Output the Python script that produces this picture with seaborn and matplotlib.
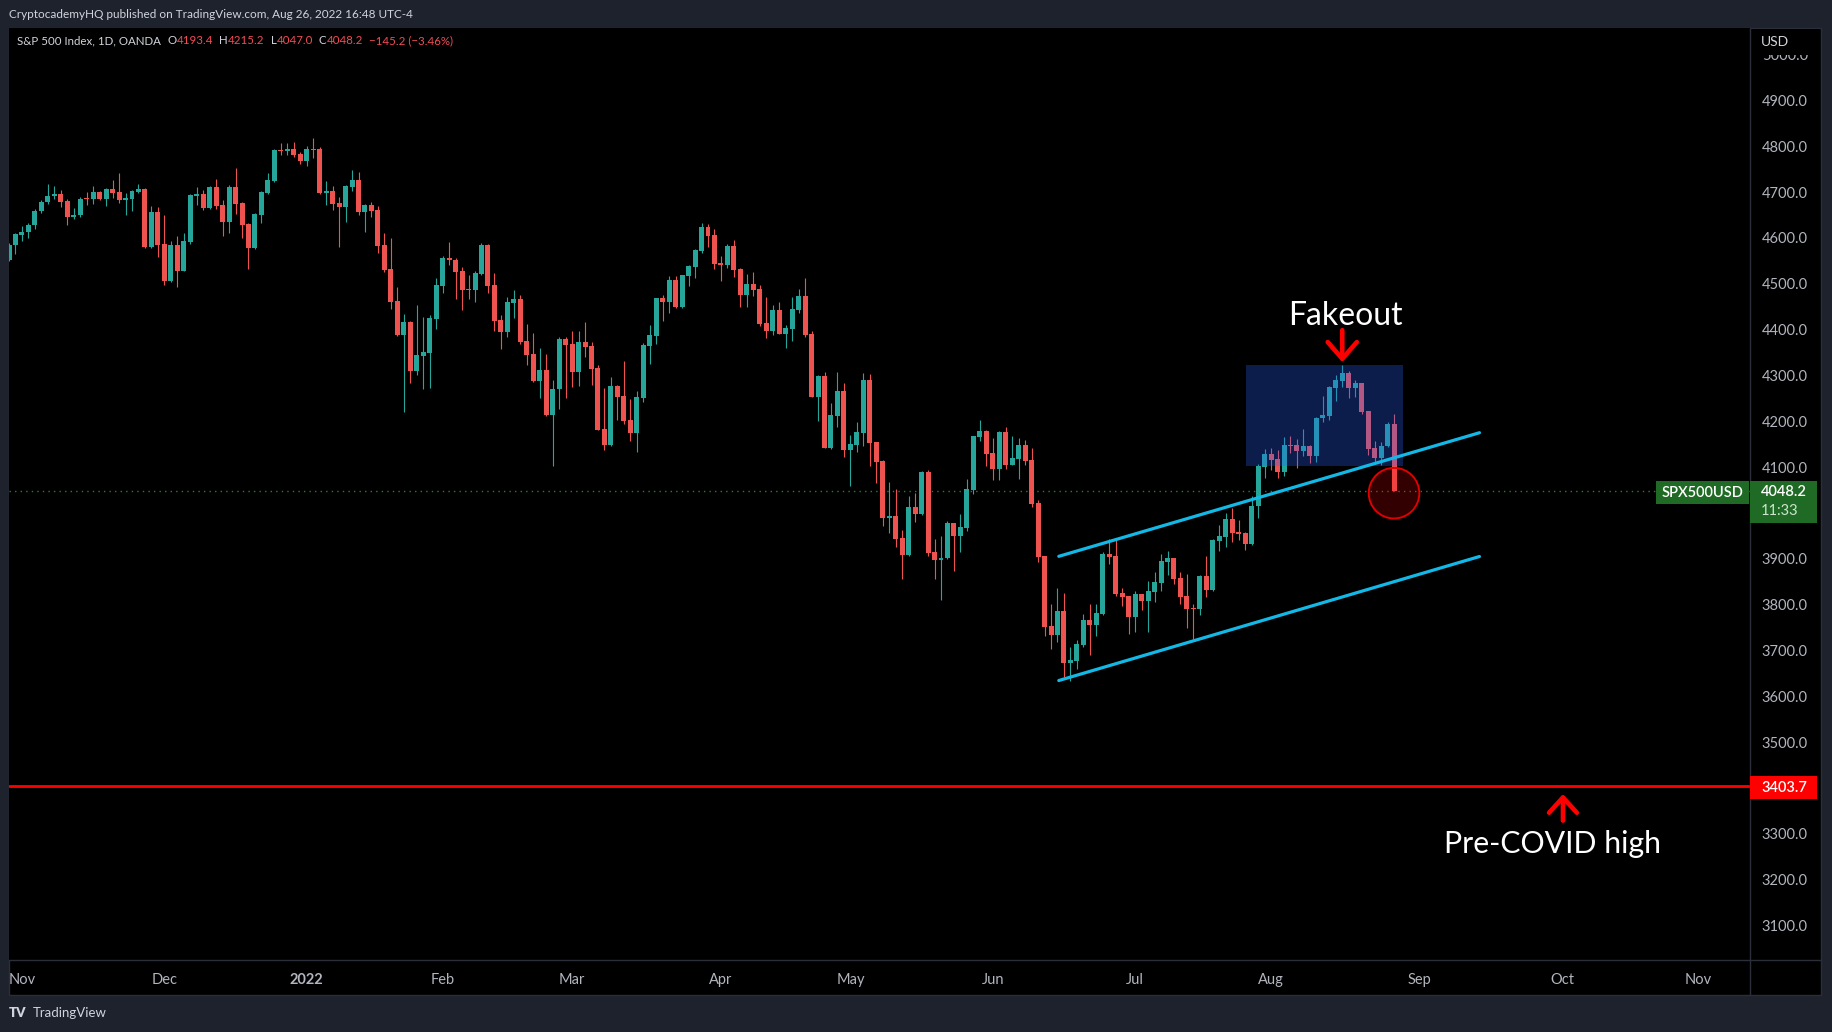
import numpy as np
import pandas as pd
import matplotlib
matplotlib.use("Agg")
import matplotlib.pyplot as plt
from matplotlib.patches import Rectangle, Ellipse
from matplotlib.lines import Line2D
import seaborn as sns

# S&P 500 (OANDA SPX500USD) daily candles, 28 Oct 2021 - 26 Aug 2022
opens = [
    4553, 4585,
    4607, 4613, 4628, 4659, 4678, 4691, 4696, 4680, 4646, 4650,
    4685, 4684, 4700, 4685, 4707, 4700, 4683, 4685, 4700, 4707, 4581, 4657,
    4587, 4507, 4585, 4529, 4591, 4692, 4696, 4665, 4711, 4672,
    4635, 4711, 4676, 4630, 4578, 4650, 4698, 4724, 4792, 4790, 4794, 4783,
    4768, 4794, 4794, 4698, 4702, 4676, 4668, 4711, 4726, 4657,
    4672, 4661, 4585, 4532, 4462, 4388, 4417, 4310, 4343, 4349, 4423,
    4495, 4556, 4553, 4528, 4488, 4487, 4522, 4585, 4497, 4421,
    4395, 4458, 4467, 4375, 4347, 4288, 4312, 4214, 4270, 4380,
    4369, 4308, 4373, 4364, 4316, 4183, 4148, 4277, 4255, 4203,
    4175, 4251, 4365, 4386, 4469, 4460, 4508, 4449, 4517, 4537, 4572, 4624, 4606,
    4545, 4541, 4583, 4532, 4476, 4500, 4489, 4415, 4397, 4443,
    4391, 4402, 4443, 4473, 4390, 4253, 4299, 4142, 4212, 4266,
    4137, 4148, 4175, 4290, 4155, 4113, 3989, 3993, 3945, 3908,
    4013, 3998, 4089, 3915, 3898, 3902, 3978, 3950, 3967, 4050, 4166, 4179,
    4131, 4096, 4177, 4105, 4118, 4148, 4115, 4022, 3906, 3753,
    3734, 3786, 3673, 3677, 3712, 3766, 3756, 3780, 3910, 3906, 3825, 3819,
    3773, 3823, 3808, 3828, 3847, 3893, 3902, 3858, 3819, 3793,
    3790, 3862, 3832, 3939, 3948, 3987, 3958, 3956, 3932, 4015, 4100,
    4129, 4118, 4089, 4148, 4148, 4135, 4146, 4124, 4207, 4212,
    4273, 4288, 4305, 4273, 4284, 4222, 4142, 4120, 4146, 4193.4,
]
highs = [
    4590, 4610,
    4626, 4632, 4663, 4682, 4717, 4713, 4705, 4685, 4665, 4689,
    4700, 4713, 4702, 4710, 4726, 4742, 4698, 4705, 4718, 4709, 4670, 4668,
    4650, 4593, 4604, 4611, 4696, 4711, 4705, 4713, 4729, 4683,
    4716, 4753, 4679, 4633, 4654, 4702, 4742, 4794, 4807, 4807, 4809, 4788,
    4801, 4818, 4798, 4724, 4713, 4689, 4716, 4748, 4744, 4674,
    4678, 4670, 4611, 4600, 4493, 4434, 4419, 4454, 4428, 4432, 4513,
    4561, 4591, 4557, 4537, 4519, 4528, 4589, 4587, 4524, 4432,
    4471, 4487, 4476, 4412, 4393, 4360, 4347, 4290, 4384, 4384,
    4397, 4397, 4417, 4373, 4323, 4273, 4297, 4279, 4332, 4249,
    4266, 4371, 4410, 4469, 4476, 4517, 4517, 4520, 4541, 4576, 4633, 4631, 4620,
    4561, 4587, 4596, 4535, 4521, 4526, 4497, 4471, 4454, 4460,
    4410, 4471, 4489, 4513, 4397, 4301, 4308, 4240, 4308, 4284,
    4170, 4199, 4305, 4303, 4155, 4115, 4068, 4052, 3963, 4037,
    4044, 4092, 4094, 3943, 3950, 3983, 3979, 3998, 4074, 4169, 4203, 4180,
    4164, 4179, 4188, 4168, 4164, 4159, 4142, 4028, 3906, 3801,
    3836, 3825, 3707, 3723, 3779, 3801, 3801, 3915, 3943, 3941, 3836, 3819,
    3830, 3823, 3852, 3871, 3910, 3917, 3902, 3871, 3867, 3801,
    3865, 3906, 3943, 3974, 4000, 4011, 3985, 3958, 4037, 4107, 4140,
    4142, 4137, 4166, 4168, 4161, 4183, 4148, 4209, 4255, 4277,
    4301, 4323, 4310, 4290, 4284, 4222, 4157, 4155, 4198, 4215.2,
]
lows = [
    4550, 4565,
    4593, 4601, 4620, 4655, 4675, 4684, 4668, 4628, 4642, 4646,
    4672, 4674, 4683, 4670, 4687, 4676, 4650, 4659, 4699, 4579, 4579, 4559,
    4498, 4505, 4492, 4527, 4587, 4672, 4661, 4663, 4663, 4604,
    4611, 4652, 4600, 4532, 4576, 4633, 4696, 4722, 4781, 4781, 4777, 4761,
    4757, 4774, 4696, 4672, 4661, 4580, 4635, 4702, 4650, 4613,
    4646, 4567, 4526, 4445, 4386, 4221, 4284, 4301, 4270, 4273, 4401,
    4480, 4541, 4467, 4443, 4467, 4460, 4520, 4480, 4397, 4358,
    4384, 4425, 4369, 4323, 4286, 4251, 4212, 4103, 4227, 4251,
    4275, 4277, 4340, 4279, 4180, 4137, 4146, 4203, 4194, 4157,
    4133, 4242, 4325, 4369, 4419, 4436, 4447, 4447, 4495, 4513, 4567, 4580, 4532,
    4506, 4535, 4515, 4449, 4449, 4473, 4408, 4382, 4388, 4390,
    4360, 4375, 4436, 4384, 4252, 4201, 4141, 4140, 4188, 4122,
    4059, 4133, 4146, 4103, 4065, 3972, 3956, 3926, 3856, 3906,
    3980, 3996, 3906, 3856, 3810, 3900, 3873, 3915, 3961, 4041, 4157, 4102,
    4072, 4072, 4096, 4104, 4074, 4105, 4013, 3893, 3732, 3703,
    3718, 3642, 3633, 3659, 3707, 3690, 3732, 3777, 3889, 3819, 3797, 3736,
    3740, 3788, 3740, 3806, 3830, 3865, 3845, 3801, 3749, 3725,
    3777, 3817, 3830, 3917, 3926, 3937, 3941, 3919, 3930, 3989, 4076,
    4094, 4076, 4081, 4131, 4098, 4124, 4109, 4111, 4198, 4203,
    4244, 4275, 4251, 4253, 4216, 4127, 4111, 4105, 4144, 4047.0,
]
closes = [
    4585, 4609,
    4613, 4628, 4659, 4678, 4691, 4696, 4678, 4646, 4651, 4685,
    4684, 4700, 4685, 4707, 4698, 4683, 4687, 4702, 4707, 4581, 4657, 4585,
    4507, 4585, 4529, 4593, 4694, 4696, 4665, 4711, 4670, 4635,
    4711, 4674, 4628, 4578, 4652, 4700, 4726, 4792, 4790, 4794, 4781, 4768,
    4794, 4792, 4698, 4702, 4674, 4668, 4713, 4726, 4657, 4672,
    4659, 4583, 4530, 4460, 4388, 4417, 4310, 4345, 4351, 4425, 4497,
    4556, 4552, 4526, 4487, 4487, 4524, 4585, 4495, 4419, 4395,
    4460, 4467, 4373, 4345, 4288, 4312, 4214, 4271, 4380, 4367,
    4308, 4373, 4362, 4314, 4181, 4148, 4277, 4253, 4201, 4175,
    4253, 4367, 4388, 4469, 4460, 4508, 4449, 4519, 4539, 4574, 4624, 4604, 4543,
    4541, 4583, 4530, 4476, 4500, 4487, 4412, 4397, 4443, 4391,
    4404, 4445, 4473, 4388, 4253, 4299, 4142, 4214, 4266, 4137,
    4150, 4177, 4290, 4153, 4111, 3989, 3993, 3943, 3908, 4013,
    3998, 4089, 3913, 3897, 3902, 3978, 3950, 3969, 4052, 4168, 4179, 4129,
    4096, 4177, 4105, 4120, 4148, 4113, 4020, 3904, 3751, 3734,
    3786, 3673, 3679, 3714, 3766, 3756, 3782, 3910, 3904, 3823, 3817, 3773,
    3823, 3808, 3830, 3849, 3895, 3902, 3856, 3817, 3790, 3790,
    3862, 3832, 3941, 3950, 3987, 3956, 3954, 3932, 4015, 4102, 4129,
    4116, 4089, 4148, 4146, 4135, 4146, 4124, 4207, 4214, 4275,
    4290, 4305, 4273, 4284, 4220, 4140, 4120, 4146, 4193.4, 4048.2,
]
holidays = ["2021-12-24", "2022-04-15"]
precovid_high = 3403.7

# hand drawn objects (bar index, price)
channel_x = [162.2, 227.2]
channel_upper = [3905.4, 4175.1]
channel_lower = [3634.4, 3905.0]
box_x = [191.1, 215.4]
box_y = [4102.5, 4323.0]

GREEN = "#26a69a"
RED = "#ef5350"
BG = "#1e222d"
LINE = "#2a2e39"
TXT = "#b2b5be"

sns.set_theme(style="dark", rc={"axes.facecolor": "black", "figure.facecolor": BG})
plt.rcParams["font.family"] = ["Lato", "DejaVu Sans"]

opens, highs, lows, closes = map(np.array, (opens, highs, lows, closes))
n = len(closes)
days = pd.bdate_range("2021-10-28", "2022-11-15")
days = days[~days.isin(pd.to_datetime(holidays))]
x = np.arange(n)

# month labels
pos = pd.Series(np.arange(len(days)), index=days)
firsts = pos.groupby([days.year, days.month]).min()
tick_pos, tick_lab = [], []
for (yy, mm), p in firsts.items():
    if p == 0:
        continue
    tick_pos.append(p)
    tick_lab.append(str(yy) if mm == 1 else pd.Timestamp(yy, mm, 1).strftime("%b"))

W, H = 1832, 1032
fig = plt.figure(figsize=(W / 100, H / 100), dpi=100)


def frect(x0, y0, x1, y1):
    return [x0 / W, 1 - y1 / H, (x1 - x0) / W, (y1 - y0) / H]


def fbox(x0, y0, x1, y1, color, z=1, edgecolor="none", lw=0):
    r = frect(x0, y0, x1, y1)
    fig.add_artist(Rectangle((r[0], r[1]), r[2], r[3], transform=fig.transFigure,
                             facecolor=color, edgecolor=edgecolor, lw=lw, zorder=z))


def ftext(px, py, s, **kw):
    return fig.text(px / W, 1 - py / H, s, **kw)


# panel behind chart + axes
fbox(9, 28, 1821, 995, "black", z=-10, edgecolor=LINE, lw=1)
fig.add_artist(Line2D([1750 / W] * 2, [1 - 28 / H, 1 - 995 / H], transform=fig.transFigure,
                      color=LINE, lw=1, zorder=2))
fig.add_artist(Line2D([9 / W, 1821 / W], [1 - 960 / H] * 2, transform=fig.transFigure,
                      color=LINE, lw=1, zorder=2))

ax = fig.add_axes(frect(9, 28, 1750, 960))
ax.set_facecolor("black")
for sp in ax.spines.values():
    sp.set_visible(False)
ax.grid(False)

# candles
cols = np.where(closes >= opens, GREEN, RED)
ax.vlines(x, lows, highs, colors=cols, lw=0.8, zorder=3)
body_lo = np.minimum(opens, closes)
body_h = np.maximum(np.abs(closes - opens), 2.2)
ax.bar(x, body_h, bottom=body_lo, width=0.77, color=cols, lw=0, zorder=4)

# lines
ax.axhline(precovid_high, color="#ff0000", lw=2, zorder=6)
ax.axhline(closes[-1], color="#2e7d32", lw=1, ls=(0, (1, 3)), zorder=2)

ch = pd.DataFrame({
    "x": channel_x + channel_x,
    "y": channel_upper + channel_lower,
    "line": ["upper", "upper", "lower", "lower"],
})
sns.lineplot(data=ch, x="x", y="y", units="line", estimator=None, color="#12b9e6",
             lw=2.3, ax=ax, legend=False, zorder=7)

ax.add_patch(Rectangle((box_x[0], box_y[0]), box_x[1] - box_x[0], box_y[1] - box_y[0],
                       facecolor="#2962ff", alpha=0.3, lw=0, zorder=5))

xlim = (-0.004, 269.0)
ylim = (3024.6, 5058.2)
ax.set_xlim(*xlim)
ax.set_ylim(*ylim)
ax.set_xlabel("")
ax.set_ylabel("")

# circle around the break
px_x = (xlim[1] - xlim[0]) / 1741
px_y = (ylim[1] - ylim[0]) / 932
ax.add_patch(Ellipse((x[-1], closes[-1] - 5), 2 * 25.3 * px_x, 2 * 25.3 * px_y,
                     facecolor=(1, 0, 0, 0.2), edgecolor="#e00000", lw=1.4, zorder=6))

# annotations
start = int(np.ceil(box_x[0]))
peak = start + int(np.argmax(highs[start:]))
ax.annotate("", xy=(x[peak], highs[peak] + 6), xytext=(x[peak], highs[peak] + 76),
            arrowprops=dict(arrowstyle="->,head_length=1.2,head_width=1.05", color="#ff0000",
                            lw=3.3, shrinkA=0, shrinkB=0, mutation_scale=10), zorder=8)
ax.text(x[peak] + 0.5, highs[peak] + 106, "Fakeout", ha="center", va="center",
        fontsize=23, color="white", zorder=8)
ax.annotate("", xy=(240.1, precovid_high - 17), xytext=(240.1, precovid_high - 75),
            arrowprops=dict(arrowstyle="->,head_length=1.1,head_width=1.0", color="#ff0000",
                            lw=3.3, shrinkA=0, shrinkB=0, mutation_scale=10), zorder=8)
ax.text(238.5, precovid_high - 125, "Pre-COVID high", ha="center", va="center",
        fontsize=21.8, color="white", zorder=8)

# axes ticks
yt = [v for v in range(3100, 5001, 100) if v not in (3400, 4000)]
ax.yaxis.tick_right()
ax.set_yticks(yt)
ax.set_yticklabels([f"{v:.1f}" for v in yt])
ax.tick_params(axis="y", length=0, pad=8.4, labelsize=10.5, colors=TXT)
ax.set_xticks(tick_pos)
ax.set_xticklabels(tick_lab)
ax.tick_params(axis="x", length=0, pad=9.5, labelsize=10.5, colors=TXT)
for lab in ax.get_xticklabels():
    if lab.get_text() == "2022":
        lab.set_fontweight("bold")

fbox(1751, 29, 1820, 55, "black", z=1)
ftext(1761, 42.5, "USD", color="#d1d4dc", fontsize=10, va="center", zorder=3)

# price labels on axis
LBLG = "#1f6b25"
fbox(1656, 481, 1749, 504, LBLG, z=2)
ftext(1702.5, 492.5, "SPX500USD", color="white", fontsize=10.5, ha="center", va="center",
      fontweight="semibold", zorder=3)
fbox(1750, 481, 1817, 523, LBLG, z=2)
ftext(1761, 492, f"{closes[-1]:.1f}", color="white", fontsize=10.5, va="center",
      fontweight="semibold", zorder=3)
ftext(1761, 511, "11:33", color="#cfe3cf", fontsize=10.5, va="center", zorder=3)
fbox(1750, 776, 1817, 799, "#ff0000", z=2)
ftext(1761, 787.5, f"{precovid_high:.1f}", color="white", fontsize=10.5, va="center",
      fontweight="semibold", zorder=3)

# header + legend
ftext(9, 14, "CryptocademyHQ published on TradingView.com, Aug 26, 2022 16:48 UTC-4",
      color="#d1d4dc", fontsize=8.5, va="center")

chg = closes[-1] - closes[-2]
pct = chg / closes[-2] * 100
VAL = "#f44c56"
LEG = "#d1d4dc"
parts = [("S&P 500 Index, 1D, OANDA", LEG, 7),
         ("O", LEG, 0), (f"{opens[-1]:.1f}", VAL, 6),
         ("H", LEG, 0), (f"{highs[-1]:.1f}", VAL, 6),
         ("L", LEG, 0), (f"{lows[-1]:.1f}", VAL, 6),
         ("C", LEG, 0), (f"{closes[-1]:.1f}", VAL, 6),
         (f"{chg:.1f} ({pct:.2f}%)".replace("-", "\u2212"), VAL, 0)]
renderer = fig.canvas.get_renderer()
cx = 17
for s, c, gap in parts:
    t = ftext(cx, 41, s, color=c, fontsize=8.3, va="center")
    cx += t.get_window_extent(renderer=renderer).width + gap

# footer logo
ftext(9, 1013, "TV", color="#d1d4dc", fontsize=9.5, fontweight="heavy", va="center")
ftext(33, 1013, "TradingView", color="#d1d4dc", fontsize=9.5, va="center")

fig.savefig("out.png", dpi=100, facecolor=BG)
